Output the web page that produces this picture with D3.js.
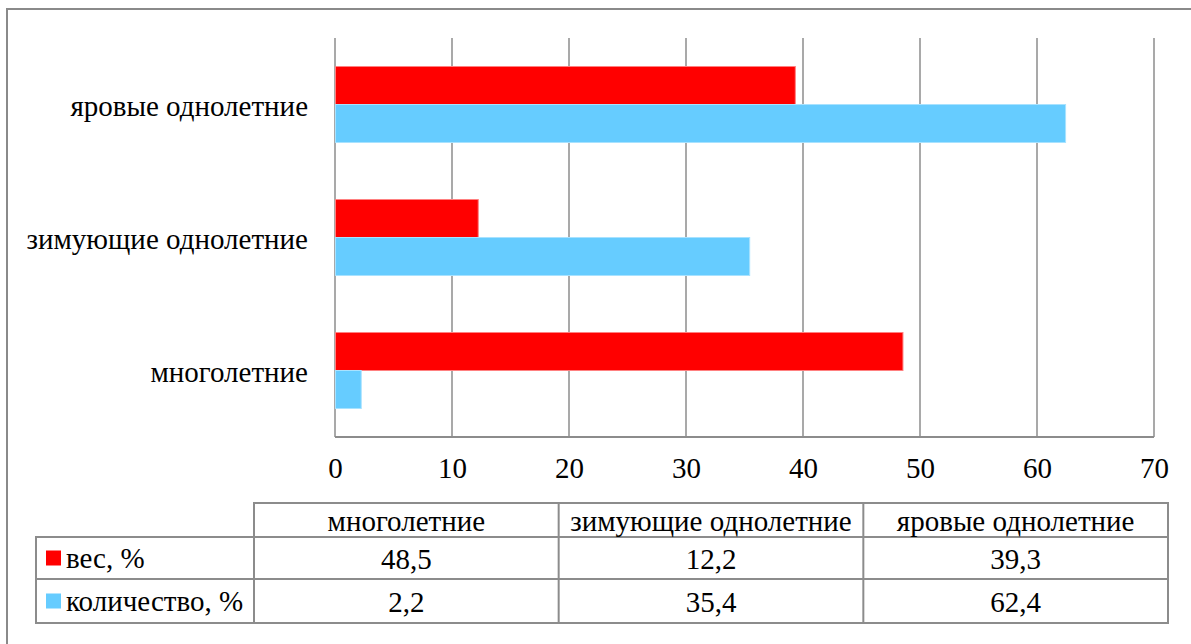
<!DOCTYPE html>
<html>
<head>
<meta charset="utf-8">
<script src="https://cdn.jsdelivr.net/npm/d3@7"></script>
<style>
  html, body { margin: 0; padding: 0; background: #fff; }
  svg { display: block; font-family: "Liberation Serif"; }
  svg text { font-family: "Liberation Serif" !important; font-size: 29px; fill: #000; }
</style>
</head>
<body>
<svg id="chart" width="1191" height="644"></svg>
<script>
// Weed groups and their share by weight and by count
const categories = ["многолетние", "зимующие однолетние", "яровые однолетние"];
const seriesNames = ["вес, %", "количество, %"];
const weightValues = [48.5, 12.2, 39.3];
const countValues = [2.2, 35.4, 62.4];
const tickValues = [0, 10, 20, 30, 40, 50, 60, 70];
const colors = ["#FF0000", "#66CCFF"];
const edgeColors = ["#FF8080", "#A8E2FF"];

const series = [weightValues, countValues];
const rows = categories.map((c, i) => ({ cat: c, values: series.map(s => s[i]) }));

const svg = d3.select("#chart");
const gridColor = "#8c8c8c";
const styleText = sel => sel
  .attr("font-family", "Liberation Serif")
  .attr("font-size", 29)
  .attr("fill", "#000");

// outer frame
svg.append("rect")
  .attr("x", 7).attr("y", 9)
  .attr("width", 1300).attr("height", 700)
  .attr("fill", "none").attr("stroke", "#8a8a8a").attr("stroke-width", 2);

const plot = { left: 335, right: 1154, top: 38, bottom: 437 };

const x = d3.scaleLinear().domain([0, 70]).range([plot.left, plot.right]);
const y = d3.scaleBand()
  .domain(categories.slice().reverse())
  .range([plot.top, plot.bottom])
  .paddingInner(0.4286)
  .paddingOuter(0.2143);
const ySub = d3.scaleBand().domain(seriesNames).range([0, y.bandwidth()]);

// vertical gridlines
svg.append("g")
  .selectAll("line")
  .data(tickValues)
  .join("line")
  .attr("x1", d => x(d)).attr("x2", d => x(d))
  .attr("y1", plot.top).attr("y2", plot.bottom)
  .attr("stroke", gridColor).attr("stroke-width", 1.5);

// bars
const groups = svg.append("g")
  .selectAll("g")
  .data(rows)
  .join("g")
  .attr("transform", d => `translate(0,${y(d.cat)})`);

groups.selectAll("rect")
  .data(d => d.values.map((v, k) => ({ v, k })))
  .join("rect")
  .attr("x", x(0) + 0.5)
  .attr("y", d => ySub(seriesNames[d.k]))
  .attr("width", d => x(d.v) - x(0))
  .attr("height", ySub.bandwidth())
  .attr("fill", d => colors[d.k])
  .attr("stroke", d => edgeColors[d.k])
  .attr("stroke-width", 1);

// bottom axis line
svg.append("line")
  .attr("x1", plot.left).attr("x2", plot.right)
  .attr("y1", plot.bottom).attr("y2", plot.bottom)
  .attr("stroke", gridColor).attr("stroke-width", 2);

// x tick labels
const xAxis = d3.axisBottom(x).tickValues(tickValues).tickSize(0).tickPadding(0);
const xg = svg.append("g").attr("transform", `translate(0,${plot.bottom})`).call(xAxis);
xg.attr("font-family", "Liberation Serif").attr("font-size", 29);
xg.select(".domain").remove();
xg.selectAll("text")
  .call(styleText)
  .attr("dy", null)
  .attr("y", 41);

// category labels
const yAxis = d3.axisLeft(y).tickSize(0).tickPadding(27);
const yg = svg.append("g").attr("transform", `translate(${plot.left},0)`).call(yAxis);
yg.attr("font-family", "Liberation Serif").attr("font-size", 29);
yg.select(".domain").remove();
yg.selectAll("text")
  .call(styleText)
  .attr("dy", "0.38em");

// data table
const table = {
  legendLeft: 36,
  colLeft: 254,
  right: 1168,
  headerTop: 503,
  rowTops: [537, 579],
  bottom: 623
};
const colX = d3.scaleBand().domain(categories).range([table.colLeft, table.right]);
const tg = svg.append("g");
const lineAttr = sel => sel.attr("stroke", gridColor).attr("stroke-width", 2).attr("fill", "none");

// header frame
tg.append("rect")
  .attr("x", table.colLeft).attr("y", table.headerTop)
  .attr("width", table.right - table.colLeft)
  .attr("height", table.rowTops[0] - table.headerTop)
  .call(lineAttr);
// body frame
tg.append("rect")
  .attr("x", table.legendLeft).attr("y", table.rowTops[0])
  .attr("width", table.right - table.legendLeft)
  .attr("height", table.bottom - table.rowTops[0])
  .call(lineAttr);
// row divider
tg.append("line")
  .attr("x1", table.legendLeft).attr("x2", table.right)
  .attr("y1", table.rowTops[1]).attr("y2", table.rowTops[1])
  .call(lineAttr);
// column dividers
tg.selectAll("line.col")
  .data(categories)
  .join("line")
  .attr("class", "col")
  .attr("x1", d => colX(d)).attr("x2", d => colX(d))
  .attr("y1", table.headerTop).attr("y2", table.bottom)
  .call(lineAttr);

// header labels
tg.selectAll("text.head")
  .data(categories)
  .join("text")
  .attr("class", "head")
  .attr("x", d => colX(d) + colX.bandwidth() / 2)
  .attr("y", (table.headerTop + table.rowTops[0]) / 2)
  .attr("dy", "0.38em")
  .attr("text-anchor", "middle")
  .call(styleText)
  .text(d => d);

const rowBounds = [[table.rowTops[0], table.rowTops[1]], [table.rowTops[1], table.bottom]];
const fmt = v => String(v).replace(".", ",");

series.forEach((vals, k) => {
  const cy = (rowBounds[k][0] + rowBounds[k][1]) / 2;
  // legend key
  tg.append("rect")
    .attr("x", 46).attr("y", cy - 7.5)
    .attr("width", 15).attr("height", 15)
    .attr("fill", colors[k]);
  tg.append("text")
    .attr("x", 66).attr("y", cy)
    .attr("dy", "0.35em")
    .call(styleText)
    .text(seriesNames[k]);
  // values
  tg.selectAll(null)
    .data(vals)
    .join("text")
    .attr("x", (d, i) => colX(categories[i]) + colX.bandwidth() / 2)
    .attr("y", cy)
    .attr("dy", "0.37em")
    .attr("text-anchor", "middle")
    .call(styleText)
    .text(d => fmt(d));
});
</script>
</body>
</html>
